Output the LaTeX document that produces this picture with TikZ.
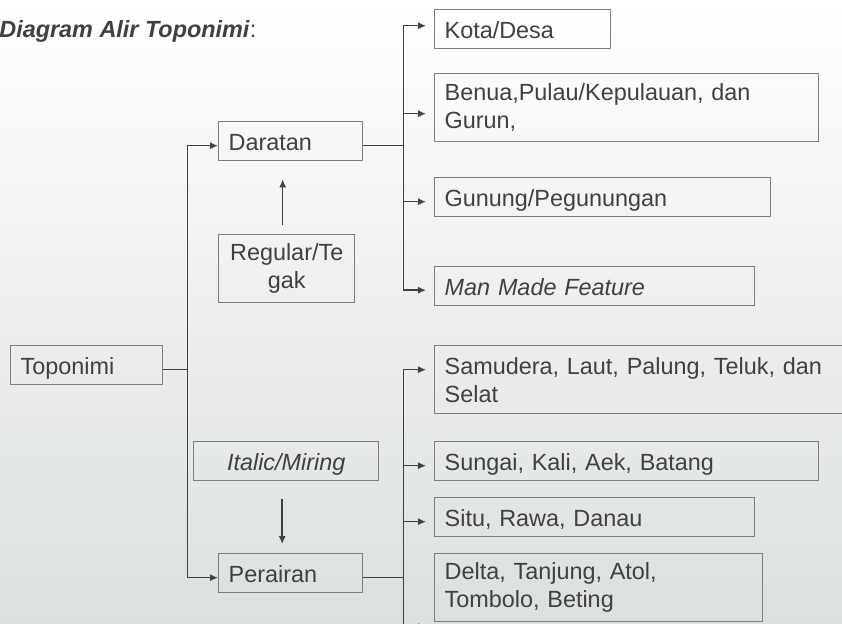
\documentclass[tikz,border=0pt]{standalone}
\usepackage{fontspec}
\setmainfont{Liberation Sans}
\usepackage{xcolor}
\usetikzlibrary{arrows.meta}

\definecolor{inkgray}{RGB}{64,64,64}
\definecolor{framegray}{RGB}{125,125,125}
\definecolor{bgbottom}{RGB}{220,223,224}

\begin{document}
\begin{tikzpicture}[
		x=0.5pt, y=-0.5pt,
		font=\fontsize{11.7}{14}\selectfont,
		text=inkgray,
		namebox/.style={
			draw=framegray,
			line width=0.7pt,
			anchor=north west,
			align=left,
			text width=#1,
			text height=10pt,
			text depth=0.5pt,
			inner xsep=5pt,
			inner ysep=0pt,
			minimum height=19.5pt
		},
		tallbox/.style={namebox=#1, text height=, text depth=, minimum height=34pt},
		centerbox/.style={namebox=#1, align=center},
		link/.style={draw=inkgray, line width=0.75pt},
		arrow/.style={link, -{Latex[length=4pt,width=3.6pt]}}
	]
		% page and background
		\useasboundingbox (0,0) rectangle (842,623);
		\clip (0,0) rectangle (842,623);
		\shade[top color=white, bottom color=bgbottom] (0,0) rectangle (842,623);

		\node[anchor=base west, inner sep=0pt, font=\fontsize{11.7}{14}\selectfont\bfseries] (title) at (-1,37)
			{\textit{Diagram Alir Toponimi}\textnormal{:}};

		% left part
		\node[namebox=66pt] (toponimi) at (10,345) {Toponimi};
		\node[namebox=62pt] (daratan) at (218,121) {Daratan};
		\node[tallbox=58pt, align=center, inner ysep=1pt] (regular) at (218,234) {Regular/Te\\gak};
		\node[centerbox=82.5pt] (italic) at (193,441) {\textit{Italic/Miring}};
		\node[namebox=62pt] (perairan) at (218,553) {Perairan};

		% land names
		\node[namebox=78pt] (kota) at (434,9) {Kota/Desa};
		\node[tallbox=182pt] (benua) at (434,73) {Benua,Pulau/Kepulauan, dan\\Gurun,};
		\node[namebox=158pt] (gunung) at (434,177) {Gunung/Pegunungan};
		\node[namebox=150pt] (manmade) at (434,266) {\textit{Man Made Feature}};

		% water names
		\node[tallbox=200pt] (samudera) at (434,345) {Samudera, Laut, Palung, Teluk, dan\\Selat};
		\node[namebox=182pt] (sungai) at (434,441) {Sungai, Kali, Aek, Batang};
		\node[namebox=150pt] (situ) at (434,497) {Situ, Rawa, Danau};
		\node[tallbox=154pt] (delta) at (434,553) {Delta, Tanjung, Atol,\\Tombolo, Beting};

		\coordinate (ltrunk) at ([xshift=12pt, yshift=-2.25pt]toponimi.east);
		\coordinate (dtrunk) at ([xshift=20pt, yshift=-2.25pt]daratan.east);
		\coordinate (ptrunk) at ([xshift=20pt, yshift=-2.25pt]perairan.east);

		\draw[link] ([yshift=-2.25pt]toponimi.east) -- (ltrunk);
		\draw[arrow] (ltrunk) |- ([yshift=-2.25pt]daratan.west);
		\draw[arrow] (ltrunk) |- ([yshift=-2.25pt]perairan.west);

		\draw[arrow, shorten <=4.5pt, shorten >=9pt] ([xshift=-2pt]regular.north) -- ([xshift=-2pt]regular.north |- daratan.south);
		\draw[arrow, shorten <=9pt, shorten >=4.5pt] ([xshift=-2pt]italic.south) -- ([xshift=-2pt]italic.south |- perairan.north);

		\draw[link] ([yshift=-2.25pt]daratan.east) -- (dtrunk);
		\draw[arrow, shorten >=4pt] (dtrunk) |- ([yshift=1.75pt]kota.west);
		\draw[arrow, shorten >=4pt] (dtrunk) |- ([yshift=-3pt]benua.west);
		\draw[arrow, shorten >=4pt] (dtrunk) |- ([yshift=-2.25pt]gunung.west);
		\draw[arrow, shorten >=4pt] (dtrunk) |- ([yshift=-2pt]manmade.west);

		\draw[link] ([yshift=-2.25pt]perairan.east) -- (ptrunk);
		\draw[arrow, shorten >=4pt] (ptrunk) |- ([yshift=5pt]samudera.west);
		\draw[arrow, shorten >=4pt] (ptrunk) |- ([yshift=-2.25pt]sungai.west);
		\draw[arrow, shorten >=4pt] (ptrunk) |- ([yshift=-2.25pt]situ.west);
		\draw[arrow, shorten >=4pt] (ptrunk) |- ([yshift=-19.5pt]delta.west);
	\end{tikzpicture}
\end{document}
